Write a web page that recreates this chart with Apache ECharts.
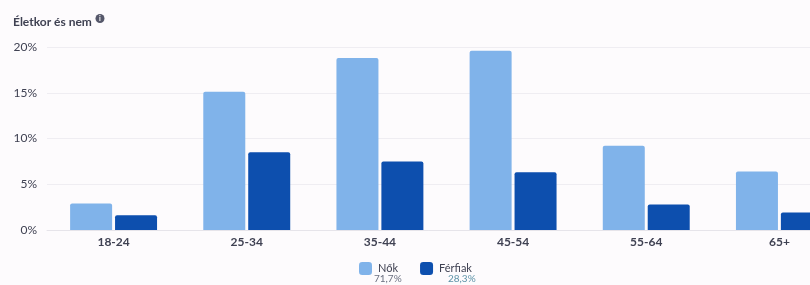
<!DOCTYPE html>
<html>
<head>
    <meta charset="utf-8">
    <title>Életkor és nem</title>
    <style>
        html, body { margin: 0; padding: 0; background: #fdfbfd; }
    </style>
</head>
<body>
    <div id="main" style="width: 810px; height: 285px;"></div>
    <script src="https://cdn.jsdelivr.net/npm/echarts@6/dist/echarts.min.js"></script>
    <script type="text/javascript">
        // adatok
        var korcsoportok = ['18-24', '25-34', '35-44', '45-54', '55-64', '65+'];
        var nokErtekek = [2.9, 15.1, 18.8, 19.6, 9.2, 6.4];
        var ferfiakErtekek = [1.6, 8.5, 7.5, 6.3, 2.8, 1.9];
        var sorozatNevek = ['Nők', 'Férfiak'];
        var aranyok = ['71,7%', '28,3%'];
        var yTicks = [0, 5, 10, 15, 20];

        var chartDom = document.getElementById('main');
        var myChart = echarts.init(chartDom);
        var textColor = '#3f4152';

        var option = {
            backgroundColor: '#fdfbfd',
            animation: false,
            title: {
                text: 'Életkor és nem',
                left: 8,
                top: 11,
                textStyle: {
                    fontFamily: 'Lato',
                    fontSize: 12,
                    fontWeight: 'bold',
                    color: textColor
                }
            },
            graphic: [
                {
                    type: 'circle',
                    shape: { cx: 100, cy: 18.5, r: 4.5 },
                    style: { fill: '#55576a' }
                },
                {
                    type: 'text',
                    x: 100,
                    y: 18.5,
                    style: {
                        text: 'i',
                        fill: '#ffffff',
                        font: 'bold 7px Lato',
                        align: 'center',
                        verticalAlign: 'middle'
                    }
                },
                {
                    type: 'text',
                    x: 374,
                    y: 274,
                    style: { text: aranyok[0], fill: '#6b7080', font: '10px Lato' }
                },
                {
                    type: 'text',
                    x: 448,
                    y: 274,
                    style: { text: aranyok[1], fill: '#5d93a8', font: '10px Lato' }
                }
            ],
            legend: {
                data: sorozatNevek,
                left: 354,
                top: 257,
                itemWidth: 13,
                itemHeight: 13,
                itemGap: 22,
                icon: 'roundRect',
                textStyle: {
                    fontFamily: 'Lato',
                    fontSize: 11,
                    color: textColor,
                    padding: [0, 0, 0, 1]
                }
            },
            grid: {
                left: 47,
                right: -36,
                top: 47,
                bottom: 55,
                outerBoundsMode: 'none',
                containLabel: false
            },
            xAxis: {
                type: 'category',
                data: korcsoportok,
                axisLine: { show: true, lineStyle: { color: '#e6e4ea' } },
                axisTick: { show: false },
                axisLabel: {
                    fontFamily: 'Lato',
                    fontSize: 12,
                    fontWeight: 'bold',
                    color: textColor,
                    margin: 6
                }
            },
            yAxis: {
                type: 'value',
                min: yTicks[0],
                max: yTicks[yTicks.length - 1],
                interval: 5,
                axisLabel: {
                    formatter: '{value}%',
                    fontFamily: 'Lato',
                    fontSize: 12,
                    color: textColor,
                    margin: 10
                },
                splitLine: { lineStyle: { color: '#efedf2' } }
            },
            series: [
                {
                    name: sorozatNevek[0],
                    type: 'bar',
                    data: nokErtekek,
                    barWidth: 42,
                    barGap: '7%',
                    itemStyle: { color: '#80b3ea', borderRadius: [2, 2, 0, 0] }
                },
                {
                    name: sorozatNevek[1],
                    type: 'bar',
                    data: ferfiakErtekek,
                    barWidth: 42,
                    itemStyle: { color: '#0d4fae', borderRadius: [2, 2, 0, 0] }
                }
            ]
        };

        myChart.setOption(option);
    </script>
</body>
</html>
